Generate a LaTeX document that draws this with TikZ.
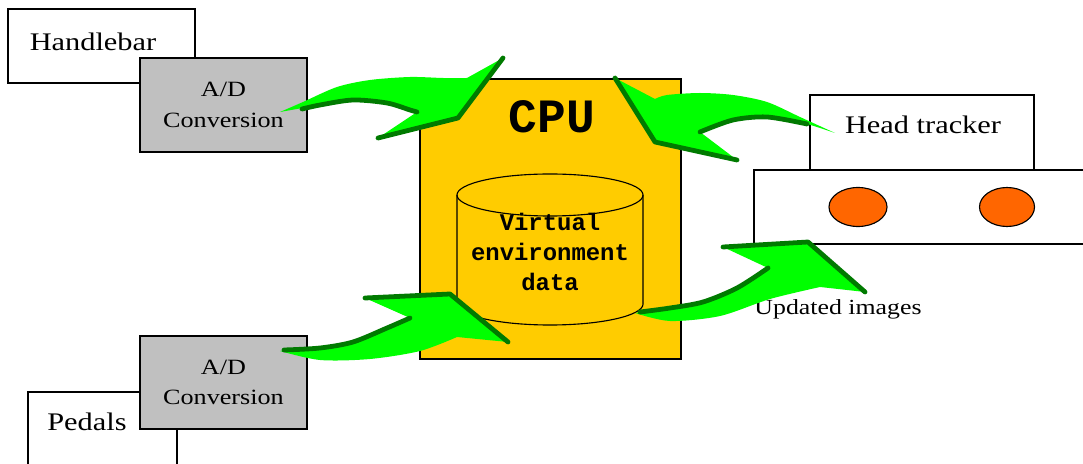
\documentclass[tikz,border=0pt]{standalone}
\usepackage{fontspec}
\usepackage{tikz}
\setmainfont{Liberation Serif}
\newfontfamily\labelfont[FakeStretch=1.2]{Liberation Serif}
\newfontfamily\datafont{Liberation Mono}
\usetikzlibrary{shapes.geometric}
\definecolor{cpuyellow}{HTML}{FFCC00}
\definecolor{adgray}{HTML}{C0C0C0}
\definecolor{lensorange}{HTML}{FF6600}
\definecolor{arrowgreen}{HTML}{00FF00}
\definecolor{arrowdark}{HTML}{007A00}
\newcommand{\pxu}{0.025cm}
\tikzset{
  unitbox/.style={draw, line width=0.9pt, inner sep=0pt},
  plainbox/.style={unitbox, fill=white},
  adbox/.style={unitbox, fill=adgray, align=center,
    font=\labelfont\fontsize{15.5}{21.5}\selectfont},
  boxtext/.style={inner sep=0pt, font=\labelfont\fontsize{18}{22}\selectfont},
  lens/.style={ellipse, draw, line width=0.8pt, fill=lensorange, inner sep=0pt},
  greenarrow/.style={fill=arrowgreen},
  arrowedge/.style={draw=arrowdark, line width=3.4pt, line join=round, line cap=round}
}

\begin{document}
\begin{tikzpicture}[x=0.025cm, y=-0.025cm]
\useasboundingbox (0,0) rectangle (1083,464);
% input side
\node[plainbox, minimum width=187*\pxu, minimum height=74*\pxu] (handlebar) at (101.5,46) {};
\node[boxtext] (handlebartext) at (93,42) {Handlebar};
\node[adbox, minimum width=167*\pxu, minimum height=94*\pxu] (adtop) at (223.5,105) {A/D\\Conversion};
\node[plainbox, minimum width=149*\pxu, minimum height=98*\pxu] (pedals) at (102.5,441) {};
\node[boxtext] (pedalstext) at (87,422) {Pedals};
\node[adbox, minimum width=167*\pxu, minimum height=93*\pxu] (adbottom) at (223.5,382.5) {A/D\\Conversion};
% the cpu and its data store
\node[unitbox, fill=cpuyellow, minimum width=261*\pxu, minimum height=280*\pxu] (cpu) at (550.5,219) {};
\node[inner sep=0pt, font=\datafont\bfseries\fontsize{34}{38}\selectfont] (cputext) at (552,117) {CPU};
\draw[line width=0.8pt, fill=cpuyellow] (457,195) -- (457,304)
  arc[start angle=180, end angle=360, x radius=2.325cm, y radius=0.525cm] -- (643,195);
\draw[line width=0.8pt] (550,195) ellipse[x radius=2.325cm, y radius=0.525cm];
\node[inner sep=0pt, align=center, font=\datafont\bfseries\fontsize{17}{21.3}\selectfont] (vedata) at (550,252)
  {Virtual\\environment\\data};
% the head mounted display
\node[plainbox, minimum width=224*\pxu, minimum height=75*\pxu] (tracker) at (922,132.5) {};
\node[boxtext] (trackertext) at (923,125) {Head tracker};
\node[plainbox, minimum width=336*\pxu, minimum height=74*\pxu] (display) at (922,207) {};
\node[lens, minimum width=58*\pxu, minimum height=39*\pxu] (lensleft) at (858,207) {};
\node[lens, minimum width=55*\pxu, minimum height=39*\pxu] (lensright) at (1007,207) {};
\node[boxtext, font=\labelfont\fontsize{15.3}{18}\selectfont] (updated) at (838,309) {Updated images};
% tails and tips of the block arrows
\coordinate (hbtail) at (280,112);
\coordinate (hbtip) at (458,118);
\coordinate (httail) at (835,133);
\coordinate (httip) at (655,142);
\coordinate (pdtail) at (280,351);
\coordinate (pdtip) at (450,294);
\coordinate (imtail) at (635,313);
\coordinate (imtip) at (808,242);
% handlebar to cpu
\fill[greenarrow] plot[smooth] coordinates {(hbtail) (303,102) (337,87) (370,80) (410,77) (443,78) (467,78)}
  -- (503,58) -- (hbtip) -- (378,138) -- (417,112)
  -- plot[smooth] coordinates {(417,112) (410,110) (387,103) (353,100) (320,105) (hbtail)} -- cycle;
\draw[arrowedge] (503,58) -- (hbtip) -- (378,138);
\draw[arrowedge] plot[smooth] coordinates {(417,112) (410,110) (387,103) (353,100) (320,105) (302,109)};
% head tracker to cpu
\fill[greenarrow] plot[smooth] coordinates {(httail) (800,117) (767,102) (733,95) (700,93) (667,95) (655,99)}
  -- (615,78) -- (httip) -- (737,160) -- (700,132)
  -- plot[smooth] coordinates {(700,132) (733,120) (767,117) (800,122) (httail)} -- cycle;
\draw[arrowedge] (615,78) -- (httip) -- (737,160);
\draw[arrowedge] plot[smooth] coordinates {(700,132) (733,120) (767,117) (807,124)};
% pedals to cpu
\fill[greenarrow] plot[smooth] coordinates {(pdtail) (320,360) (370,359) (420,351) (457,337)}
  -- (508,342) -- (pdtip) -- (365,298) -- (410,318)
  -- plot[smooth] coordinates {(410,318) (387,328) (353,342) (320,348) (pdtail)} -- cycle;
\draw[arrowedge] (508,342) -- (pdtip) -- (365,298);
\draw[arrowedge] plot[smooth] coordinates {(410,318) (387,328) (353,342) (320,348) (284,350)};
% cpu to display
\fill[greenarrow] plot[smooth] coordinates {(imtail) (670,321) (720,316) (770,299) (820,287)}
  -- (865,292) -- (imtip) -- (723,247) -- (768,268)
  -- plot[smooth] coordinates {(768,268) (737,288) (703,302) (670,308) (imtail)} -- cycle;
\draw[arrowedge] (865,292) -- (imtip) -- (723,247);
\draw[arrowedge] plot[smooth] coordinates {(768,268) (737,288) (703,302) (670,308) (640,312)};
\end{tikzpicture}
\end{document}
